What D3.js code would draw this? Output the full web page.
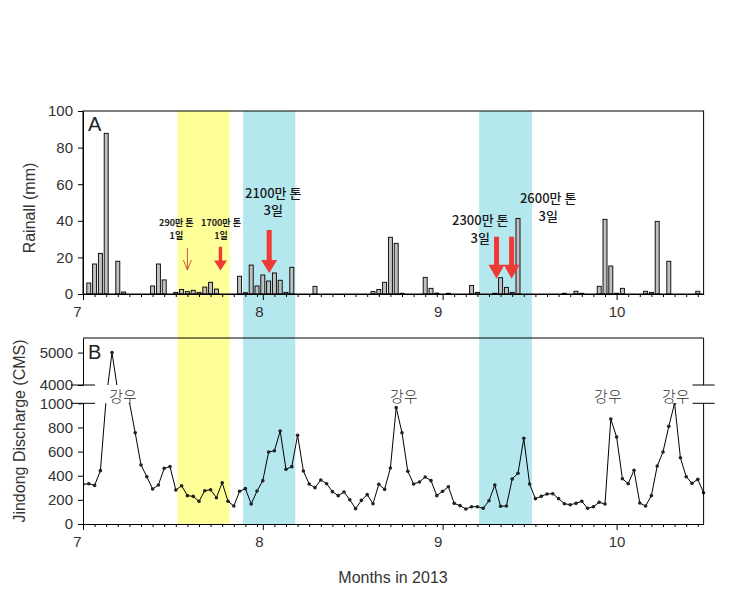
<!DOCTYPE html>
<html><head><meta charset="utf-8">
<script src="https://cdn.jsdelivr.net/npm/d3@7"></script>
<style>body{margin:0;background:#fff;} text{font-family:Arial,'Liberation Sans',sans-serif;}</style>
</head><body>
<script>
// ---------- data ----------
const monthTicks = [0, 31, 62, 92];          // day offsets from 1 July 2013
const monthLabels = ["7", "8", "9", "10"];
const rainTicks = [0, 20, 40, 60, 80, 100];
const flowTicksLow = [0, 200, 400, 600, 800, 1000];
const flowTicksHigh = [4000, 5000];

const rainDays = [1,2,3,4,6,7,12,13,14,16,17,18,19,20,21,22,23,27,28,29,30,31,32,33,34,35,36,40,50,51,52,53,54,55,59,60,61,63,67,68,71,72,73,74,75,83,85,86,89,90,91,92,93,97,98,99,101,106];
const rainValues = [6,16.4,22.2,87.8,17.9,1.1,4.4,16.4,7.7,0.9,2.5,1.3,2,0.9,3.8,6.4,2.7,9.7,0.7,15.8,4.4,10.4,7.1,11.5,7.5,0.9,14.6,4.2,1.3,2.5,6.4,31,27.7,0.4,9.1,3.1,0.5,0.4,4.7,0.9,0.4,8.9,3.6,0.9,41.3,0.4,1.5,0.4,4.2,40.8,15.3,0.4,3.1,1.5,0.9,39.7,17.9,1.5];

const discharge = [329,334,320,442,1800,5000,3000,1800,1200,756,489,392,290,323,461,475,282,317,235,229,188,276,284,218,342,188,149,271,293,166,273,359,596,607,770,453,475,735,439,331,301,365,334,268,235,265,201,127,196,243,168,329,287,464,964,756,437,331,348,389,359,235,271,309,171,152,124,143,143,130,193,323,147,149,373,420,710,331,210,229,249,251,210,168,160,171,188,130,143,180,166,870,721,375,334,445,174,149,235,480,597,809,1000,549,392,337,370,259];

const bandStart = [16.3, 27.6, 68.3];
const bandEnd = [25.3, 36.6, 77.4];
const bandColor = ["#FFFF99", "#B4E7EE", "#B4E7EE"];

const rainDay = ["290만 톤", "1700만 톤", "2100만 톤", "2300만 톤", "2600만 톤"];
const rainDur = ["1일", "1일", "3일", "3일", "3일"];
const noteDay = [16.1, 23.8, 32.8, 68.5, 80.2];
const noteVal = [35.2, 35.2, 50.5, 35.4, 47.3];   // rainfall level at the middle of each two-line note
const noteSize = [9, 9, 13, 13, 13];

const arrowDay = [18, 23.7, 32.1, 71.3, 73.9];
const arrowTop = [25.1, 25.8, 35, 31.3, 31.3];
const arrowTip = [13.1, 12.9, 11.5, 8.4, 8.4];

const stormDay = [6.9, 55.3, 90.5, 102.2];
const stormLabel = ["강우", "강우", "강우", "강우"];

// ---------- layout ----------
const W = 753, H = 590;
const L = 83, R = 703.6;
const aTop = 111, aBot = 294;
const bTop = 338, bBot = 524, brkLow = 403.3, brkHigh = 385;

const svg = d3.select("body").append("svg").attr("width", W).attr("height", H);

const x = d3.scaleLinear().domain([0, 107]).range([L, R]);
const yA = d3.scaleLinear().domain([0, 100]).range([aBot, aTop]);
const yL = d3.scaleLinear().domain([0, 1000]).range([bBot, brkLow]);
const yU = d3.scaleLinear().domain([4000, 5450]).range([brkHigh, bTop]);
const yG = d3.scaleLinear().domain([1000, 4000]).range([brkLow, brkHigh]);
const yB = v => v <= 1000 ? yL(v) : (v >= 4000 ? yU(v) : yG(v));

const ink = "#222";

// bands
svg.append("g").selectAll("rect").data(bandStart).join("rect")
  .attr("x", (d, i) => x(d)).attr("width", (d, i) => x(bandEnd[i]) - x(d))
  .attr("y", aTop).attr("height", bBot - aTop)
  .attr("fill", (d, i) => bandColor[i]);

// ---------- Panel A ----------
const gA = svg.append("g");
gA.append("g").selectAll("rect").data(rainDays).join("rect")
  .attr("x", d => x(d) - 2).attr("width", 4)
  .attr("y", (d, i) => yA(rainValues[i])).attr("height", (d, i) => yA(0) - yA(rainValues[i]))
  .attr("fill", "#C0C0C0").attr("stroke", "#000").attr("stroke-width", 0.9);

gA.append("rect").attr("x", L).attr("y", aTop).attr("width", R - L).attr("height", aBot - aTop)
  .attr("fill", "none").attr("stroke", "#000").attr("stroke-width", 1);

function styleAxis(g, fs) {
  g.selectAll("path").attr("stroke", "#000");
  g.selectAll("line").attr("stroke", "#000");
  g.selectAll("text").attr("fill", "#333").style("font-size", fs + "px").style("font-family", "Arial,'Liberation Sans',sans-serif");
}
const labelShift = [-6, -4, -5, 0];
const minorDays = [];
for (let m = 0; m < monthTicks.length; m++) {
  const s = monthTicks[m], e = m + 1 < monthTicks.length ? monthTicks[m + 1] : 108;
  for (let d = s + 2; d < e; d += 2) minorDays.push(d);
}
function xAxis(yPos) {
  const g = svg.append("g").attr("transform", `translate(0,${yPos})`);
  g.call(d3.axisBottom(x).tickValues(monthTicks).tickFormat((d, i) => monthLabels[i]).tickSize(6).tickSizeOuter(0).tickPadding(6));
  g.selectAll(".tick text").attr("dx", (d, i) => labelShift[i]);
  styleAxis(g, 15);
  const gm = svg.append("g").attr("transform", `translate(0,${yPos})`);
  gm.call(d3.axisBottom(x).tickValues(minorDays).tickFormat("").tickSize(3).tickSizeOuter(0));
  gm.select("path").remove();
  styleAxis(gm, 15);
}
xAxis(aBot);
const gAy = svg.append("g").attr("transform", `translate(${L},0)`)
  .call(d3.axisLeft(yA).tickValues(rainTicks).tickFormat(d3.format("d")).tickSize(5).tickSizeOuter(0).tickPadding(5));
styleAxis(gAy, 15);

svg.append("text").attr("x", 88).attr("y", 131).text("A").attr("fill", ink).style("font-size", "20px");

// annotations A (two-line labels)
const notes = svg.append("g").attr("fill", "#1a1a1a");
rainDay.forEach((t, i) => {
  const fs = noteSize[i];
  const cx = x(noteDay[i]), mid = yA(noteVal[i]);
  const bold = fs < 12 ? 700 : 500;
  const gap = fs < 12 ? 13 : 17.5;
  const tx = notes.append("text").attr("text-anchor", "middle")
    .style("font-size", fs + "px").style("font-weight", bold)
    .style("font-family", "'Noto Sans CJK KR',sans-serif");
  tx.append("tspan").attr("x", cx).attr("y", mid - gap / 2 + fs * 0.36).text(t);
  tx.append("tspan").attr("x", cx).attr("dy", gap).text(rainDur[i]);
});

// arrows
const arrowShaft = [0, 3.4, 5, 5, 5];
const arrowHeadW = [0, 13, 16, 16, 16];
const arrowHeadL = [0, 10, 13, 14, 14];
arrowDay.forEach((d, i) => {
  const cx = x(d), y0 = yA(arrowTop[i]), y1 = yA(arrowTip[i]);
  if (i === 0) {
    svg.append("line").attr("x1", cx).attr("x2", cx).attr("y1", y0).attr("y2", y1)
      .attr("stroke", "#C8402E").attr("stroke-width", 0.9);
    svg.append("path").attr("d", `M${cx - 4},${y1 - 10}L${cx},${y1}L${cx + 4},${y1 - 10}`)
      .attr("fill", "none").attr("stroke", "#C8402E").attr("stroke-width", 0.9);
  } else {
    const w = arrowShaft[i] / 2, hw = arrowHeadW[i] / 2, hl = arrowHeadL[i];
    svg.append("path").attr("d",
      `M${cx - w},${y0}L${cx + w},${y0}L${cx + w},${y1 - hl}L${cx + hw},${y1 - hl}L${cx},${y1}L${cx - hw},${y1 - hl}L${cx - w},${y1 - hl}Z`)
      .attr("fill", "#EE3A34");
  }
});

// ---------- Panel B ----------
const clip = svg.append("defs").append("clipPath").attr("id", "clipB");
clip.append("rect").attr("x", L).attr("y", bTop).attr("width", R - L + 2).attr("height", brkHigh - bTop);
clip.append("rect").attr("x", L).attr("y", brkLow).attr("width", R - L + 2).attr("height", bBot - brkLow);

const pts = discharge.map((v, i) => ({ d: i, v }));
const gB = svg.append("g").attr("clip-path", "url(#clipB)");
gB.append("path").datum(pts)
  .attr("d", d3.line().x(p => x(p.d)).y(p => yB(p.v)))
  .attr("fill", "none").attr("stroke", "#000").attr("stroke-width", 1);
gB.selectAll("circle").data(pts).join("circle")
  .attr("cx", p => x(p.d)).attr("cy", p => yB(p.v)).attr("r", 1.8).attr("fill", "#222");

// frame B
svg.append("line").attr("x1", L).attr("x2", R).attr("y1", bTop).attr("y2", bTop).attr("stroke", "#000");
svg.append("line").attr("x1", R).attr("x2", R).attr("y1", bTop).attr("y2", brkHigh).attr("stroke", "#000");
svg.append("line").attr("x1", R).attr("x2", R).attr("y1", brkLow).attr("y2", bBot).attr("stroke", "#000");
xAxis(bBot);

const gBl = svg.append("g").attr("transform", `translate(${L},0)`)
  .call(d3.axisLeft(yL).tickValues(flowTicksLow).tickFormat(d3.format("d")).tickSize(5).tickSizeOuter(0).tickPadding(5));
styleAxis(gBl, 15);
const gBu = svg.append("g").attr("transform", `translate(${L},0)`)
  .call(d3.axisLeft(yU).tickValues(flowTicksHigh).tickFormat(d3.format("d")).tickSize(5).tickSizeOuter(0).tickPadding(5));
styleAxis(gBu, 15);

// break marks
[brkHigh, brkLow].forEach(yy => {
  svg.append("line").attr("x1", L - 12).attr("x2", L + 12).attr("y1", yy).attr("y2", yy).attr("stroke", "#000");
  svg.append("line").attr("x1", R - 11).attr("x2", R + 11).attr("y1", yy).attr("y2", yy).attr("stroke", "#000");
});

svg.append("text").attr("x", 88).attr("y", 359).text("B").attr("fill", ink).style("font-size", "20px");

stormDay.forEach((d, i) => {
  svg.append("text").attr("x", x(d)).attr("y", (brkHigh + brkLow) / 2 + 1).attr("text-anchor", "middle")
    .attr("dominant-baseline", "central").attr("fill", "#333")
    .style("font-family", "'Noto Sans CJK KR',sans-serif").style("font-size", "15px").style("font-weight", 300)
    .text(stormLabel[i]);
});

// axis titles
svg.append("text").attr("transform", "translate(35,208) rotate(-90)").attr("text-anchor", "middle")
  .attr("fill", "#333").style("font-size", "16px").text("Rainall (mm)");
svg.append("text").attr("transform", "translate(25,431) rotate(-90)").attr("text-anchor", "middle")
  .attr("fill", "#333").style("font-size", "16px").text("Jindong Discharge (CMS)");
svg.append("text").attr("x", 393).attr("y", 583).attr("text-anchor", "middle")
  .attr("fill", "#333").style("font-size", "16px").text("Months in 2013");
</script>
</body></html>
